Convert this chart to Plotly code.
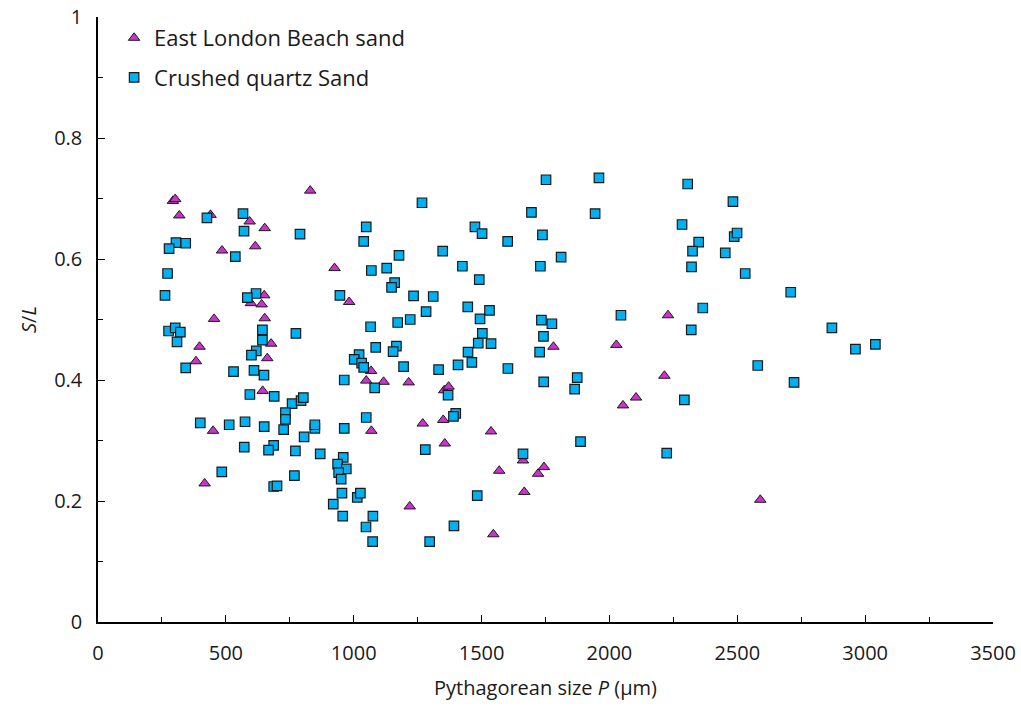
import plotly.graph_objects as go

# East London Beach sand (triangles)
el_x = [293, 302, 318, 440, 830, 593, 652, 485, 615, 925, 650, 598, 640, 982, 652, 454,
        677, 397, 383, 662, 1068, 1049, 644, 450, 1069, 417, 1117, 1215, 1354, 1371, 1270,
        1350, 1537, 1356, 1662, 1569, 1721, 1744, 1667, 1219, 1546, 1781, 2229, 2027, 2215,
        2104, 2053, 2590]
el_y = [0.696, 0.699, 0.672, 0.673, 0.713, 0.662, 0.651, 0.614, 0.621, 0.585, 0.540, 0.527,
        0.525, 0.529, 0.502, 0.501, 0.460, 0.455, 0.431, 0.436, 0.415, 0.399, 0.382, 0.316,
        0.316, 0.229, 0.397, 0.396, 0.383, 0.389, 0.328, 0.334, 0.315, 0.295, 0.267, 0.250,
        0.245, 0.256, 0.215, 0.191, 0.145, 0.455, 0.507, 0.458, 0.407, 0.371, 0.358, 0.202]

# Crushed quartz Sand (squares)
cq_x = [426, 567, 571, 790, 1049, 1039, 305, 343, 278, 537, 272, 1069, 262, 618, 584, 946,
        643, 774, 276, 302, 322, 309, 643, 619, 600, 1066, 1086, 1021, 1002, 1031, 1039, 343,
        530, 610, 649, 1082, 963, 594, 689, 759, 794, 803, 733, 733, 726, 400, 513, 575, 650,
        848, 848, 806, 963, 1049, 572, 687, 667, 772, 869, 959, 937, 971, 941, 951, 484, 687,
        700, 768, 954, 1014, 1026, 920, 957, 1075, 1048, 1074,
        1752, 1959, 1267, 1695, 1944, 1474, 1502, 1602, 1738, 1177, 1348, 1811, 1129, 1160,
        1148, 1425, 1730, 1491, 1234, 1311, 1446, 1531, 1283, 1494, 1734, 1775, 1172, 1221,
        1503, 1742, 1487, 1537, 1167, 1154, 1447, 1462, 1408, 1727, 1195, 1332, 1603,
        1369, 1743, 1874, 1864, 1399, 1390, 1280, 1887, 1662, 1483, 1392, 1297,
        2306, 2483, 2284, 2488, 2499, 2349, 2325, 2453, 2321, 2531, 2709, 2045, 2365, 2320, 2580,
        2293, 2224, 2722, 2870, 2962, 3040]
cq_y = [0.668, 0.675, 0.646, 0.641, 0.653, 0.629, 0.627, 0.626, 0.617, 0.604, 0.576, 0.581,
        0.540, 0.543, 0.536, 0.540, 0.483, 0.477, 0.481, 0.486, 0.479, 0.463, 0.466, 0.448,
        0.441, 0.488, 0.454, 0.442, 0.434, 0.428, 0.421, 0.420, 0.414, 0.416, 0.408, 0.387,
        0.400, 0.376, 0.373, 0.361, 0.366, 0.371, 0.346, 0.335, 0.318, 0.329, 0.326, 0.331,
        0.323, 0.320, 0.326, 0.306, 0.320, 0.338, 0.289, 0.292, 0.284, 0.283, 0.278, 0.272,
        0.261, 0.253, 0.247, 0.236, 0.248, 0.224, 0.225, 0.242, 0.213, 0.206, 0.213, 0.195,
        0.175, 0.175, 0.157, 0.133,
        0.731, 0.734, 0.693, 0.677, 0.675, 0.653, 0.642, 0.629, 0.640, 0.606, 0.613, 0.603,
        0.585, 0.561, 0.553, 0.588, 0.588, 0.566, 0.539, 0.538, 0.521, 0.515, 0.513, 0.501,
        0.499, 0.493, 0.495, 0.500, 0.477, 0.472, 0.461, 0.460, 0.456, 0.447, 0.446, 0.429,
        0.425, 0.446, 0.422, 0.417, 0.419,
        0.375, 0.397, 0.404, 0.385, 0.345, 0.340, 0.285, 0.298, 0.278, 0.209, 0.159, 0.133,
        0.724, 0.695, 0.657, 0.637, 0.643, 0.628, 0.613, 0.610, 0.587, 0.576, 0.545, 0.507,
        0.519, 0.483, 0.424,
        0.367, 0.279, 0.396, 0.486, 0.451, 0.459]

x_ticks = [0, 500, 1000, 1500, 2000, 2500, 3000, 3500]
y_ticks = [0, 0.2, 0.4, 0.6, 0.8, 1]
y_tick_text = ["0", "0.2", "0.4", "0.6", "0.8", "1"]

FONT = "Open Sans"
TXT = "#1a1a1a"

fig = go.Figure()
fig.add_trace(go.Scatter(
    x=el_x, y=el_y, mode="markers", name="East London Beach sand",
    legendgroup="a",
    marker=dict(symbol="triangle-up", size=10, color="#CC33CC",
                line=dict(color="#1a1a1a", width=1)),
))
fig.add_trace(go.Scatter(
    x=cq_x, y=cq_y, mode="markers", name="Crushed quartz Sand",
    legendgroup="b",
    marker=dict(symbol="square", size=9.5, color="#00B0F0",
                line=dict(color="#1a1a1a", width=1.2)),
))

axis_common = dict(
    showgrid=False, zeroline=False, showline=True, linecolor="black", linewidth=1.5,
    ticks="inside", tickcolor="black", tickwidth=1, ticklen=7,
    tickfont=dict(family=FONT, size=20, color=TXT),
    automargin=False,
)

fig.update_xaxes(
    range=[0, 3500], tickvals=x_ticks, ticktext=[str(v) for v in x_ticks],
    minor=dict(dtick=250, tick0=0, ticks="inside", ticklen=5, tickcolor="black", tickwidth=1),
    title=dict(text="Pythagorean size <i>P</i> (µm)", font=dict(family=FONT, size=20, color=TXT),
               standoff=16),
    ticklabelstandoff=12,
    **axis_common,
)
fig.update_yaxes(
    range=[0, 1], tickvals=y_ticks, ticktext=y_tick_text,
    minor=dict(dtick=0.1, tick0=0, ticks="inside", ticklen=5, tickcolor="black", tickwidth=1),
    title=dict(text="<i>S</i>/<i>L</i>", font=dict(family=FONT, size=20, color=TXT),
               standoff=12),
    ticklabelstandoff=10,
    **axis_common,
)

fig.update_layout(
    width=1021, height=709,
    margin=dict(l=98, r=28, t=17, b=87),
    plot_bgcolor="white", paper_bgcolor="white",
    font=dict(family=FONT, size=20, color=TXT),
    legend=dict(x=0.018, y=1.0, xanchor="left", yanchor="top",
                bgcolor="rgba(0,0,0,0)", tracegroupgap=8,
                font=dict(family=FONT, size=22, color=TXT), itemwidth=30),
    showlegend=True,
)

fig.write_html("out.html")
